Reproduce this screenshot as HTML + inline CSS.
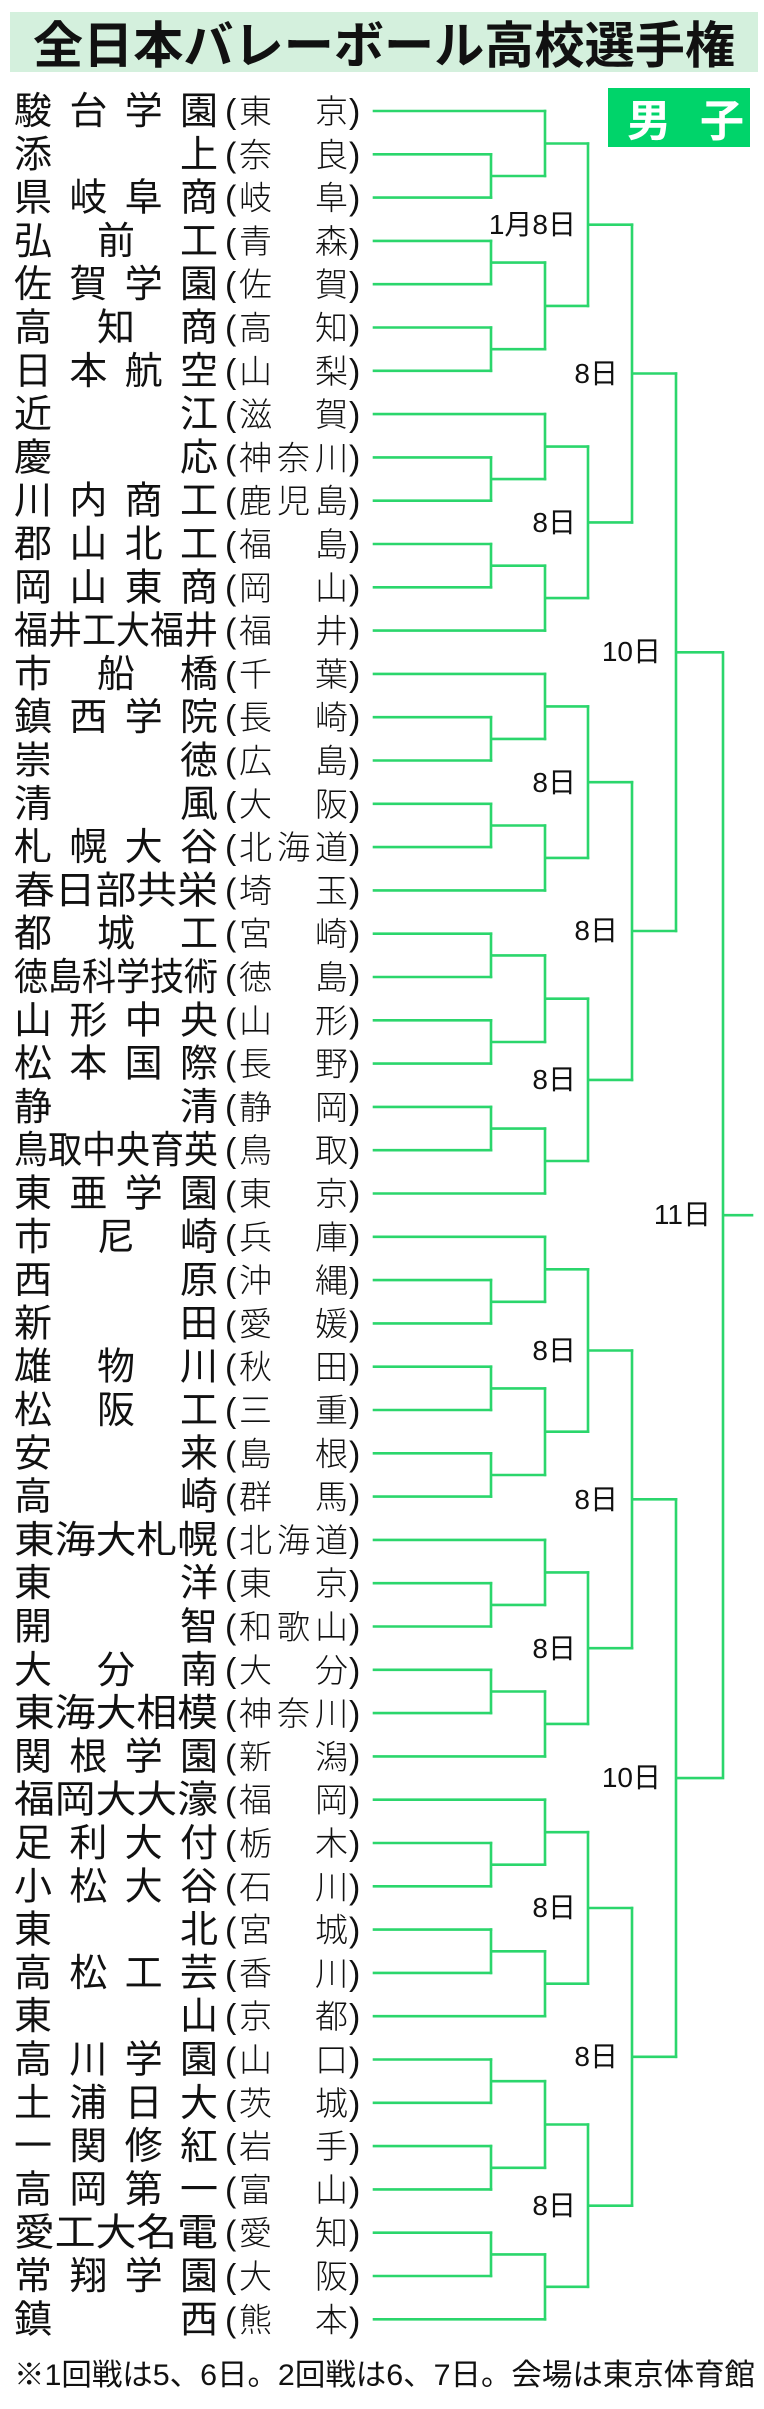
<!DOCTYPE html>
<html><head><meta charset="utf-8"><style>
html,body{margin:0;padding:0;background:#fff;}
svg{display:block;}
.n{font-family:"Noto Sans CJK JP","WenQuanYi Zen Hei",sans-serif;font-size:38px;fill:#111;font-weight:400;}
.p{font-family:"Noto Sans CJK JP","WenQuanYi Zen Hei",sans-serif;font-size:33px;fill:#111;font-weight:300;}
.par{font-family:"Liberation Sans",sans-serif;font-size:34px;fill:#111;}
.l{font-family:"Liberation Sans","Noto Sans CJK JP",sans-serif;font-size:28px;fill:#111;}
</style></head><body>
<svg width="764" height="2409" viewBox="0 0 764 2409" xmlns="http://www.w3.org/2000/svg">
<rect x="10" y="12" width="748" height="60" fill="#d4f0dd"/>
<text x="33" y="63" textLength="702" lengthAdjust="spacingAndGlyphs" font-family="'Noto Sans CJK JP',sans-serif" font-weight="bold" font-size="50" fill="#111">全日本バレーボール高校選手権</text>
<rect x="608" y="88" width="142" height="59" fill="#00d46a"/>
<text x="627" y="136" font-family="'Noto Sans CJK JP',sans-serif" font-weight="bold" font-size="44" fill="#fff">男</text>
<text x="700" y="136" font-family="'Noto Sans CJK JP',sans-serif" font-weight="bold" font-size="44" fill="#fff">子</text>

<g fill="none" stroke="#2bd66c" stroke-width="2.6" stroke-linecap="square">
<path d="M374 111H545M374 154.3H491M374 197.6H491M374 240.9H491M374 284.2H491M374 327.5H491M374 370.8H491M374 414.1H545M374 457.4H491M374 500.7H491M374 544H491M374 587.3H491M374 630.6H545M374 673.9H545M374 717.2H491M374 760.5H491M374 803.8H491M374 847.1H491M374 890.4H545M374 933.7H491M374 977H491M374 1020.3H491M374 1063.6H491M374 1106.9H491M374 1150.2H491M374 1193.5H545"/>
<path d="M374 1236.8H545M374 1280.1H491M374 1323.4H491M374 1366.7H491M374 1410H491M374 1453.3H491M374 1496.6H491M374 1539.9H545M374 1583.2H491M374 1626.5H491M374 1669.8H491M374 1713.1H491M374 1756.4H545M374 1799.7H545M374 1843H491M374 1886.3H491M374 1929.6H491M374 1972.9H491M374 2016.2H545M374 2059.5H491M374 2102.8H491M374 2146.1H491M374 2189.4H491M374 2232.7H491M374 2276H491M374 2319.3H545"/>
<path d="M491 154.3V197.6M491 176H545M491 240.9V284.2M491 262.6H545M491 327.5V370.8M491 349.2H545M491 457.4V500.7M491 479.1H545M491 544V587.3M491 565.7H545M491 717.2V760.5M491 738.9H545M491 803.8V847.1M491 825.5H545M491 933.7V977M491 955.4H545M491 1020.3V1063.6M491 1042H545M491 1106.9V1150.2M491 1128.6H545"/>
<path d="M491 1280.1V1323.4M491 1301.8H545M491 1366.7V1410M491 1388.4H545M491 1453.3V1496.6M491 1475H545M491 1583.2V1626.5M491 1604.9H545M491 1669.8V1713.1M491 1691.5H545M491 1843V1886.3M491 1864.7H545M491 1929.6V1972.9M491 1951.3H545M491 2059.5V2102.8M491 2081.2H545M491 2146.1V2189.4M491 2167.8H545M491 2232.7V2276M491 2254.4H545"/>
<path d="M545 111V176M545 143.5H588M545 262.6V349.2M545 305.9H588M545 414.1V479.1M545 446.6H588M545 565.7V630.6M545 598.1H588M545 673.9V738.9M545 706.4H588M545 825.5V890.4M545 857.9H588M545 955.4V1042M545 998.7H588M545 1128.6V1193.5M545 1161H588"/>
<path d="M545 1236.8V1301.8M545 1269.3H588M545 1388.4V1475M545 1431.7H588M545 1539.9V1604.9M545 1572.4H588M545 1691.5V1756.4M545 1723.9H588M545 1799.7V1864.7M545 1832.2H588M545 1951.3V2016.2M545 1983.7H588M545 2081.2V2167.8M545 2124.5H588M545 2254.4V2319.3M545 2286.8H588"/>
<path d="M588 143.5V305.9M588 224.7H632M588 446.6V598.1M588 522.4H632M588 706.4V857.9M588 782.2H632M588 998.7V1161M588 1079.9H632M588 1269.3V1431.7M588 1350.5H632M588 1572.4V1723.9M588 1648.2H632M588 1832.2V1983.7M588 1908H632M588 2124.5V2286.8M588 2205.7H632"/>
<path d="M632 224.7V522.4M632 373.5H676M632 782.2V1079.9M632 931H676M632 1350.5V1648.2M632 1499.3H676M632 1908V2205.7M632 2056.8H676"/>
<path d="M676 373.5V931M676 652.3H723M676 1499.3V2056.8M676 1778.1H723M723 652.3V1778.1M723 1215.2H752"/>
</g>

<g class="l" text-anchor="end">
<text x="576" y="234">1月8日</text>
<text x="576" y="532">8日</text>
<text x="618" y="383">8日</text>
<text x="576" y="792">8日</text>
<text x="576" y="1089">8日</text>
<text x="618" y="940">8日</text>
<text x="661" y="661">10日</text>
<text x="711" y="1224">11日</text>
<text x="576" y="1360">8日</text>
<text x="576" y="1658">8日</text>
<text x="618" y="1509">8日</text>
<text x="576" y="1917">8日</text>
<text x="576" y="2215">8日</text>
<text x="618" y="2066">8日</text>
<text x="661" y="1787">10日</text>
</g>

<g class="n">
<text x="14" y="124" textLength="204" lengthAdjust="spacing">駿台学園</text>
<text x="14" y="167.3" textLength="204" lengthAdjust="spacing">添上</text>
<text x="14" y="210.6" textLength="204" lengthAdjust="spacing">県岐阜商</text>
<text x="14" y="253.9" textLength="204" lengthAdjust="spacing">弘前工</text>
<text x="14" y="297.2" textLength="204" lengthAdjust="spacing">佐賀学園</text>
<text x="14" y="340.5" textLength="204" lengthAdjust="spacing">高知商</text>
<text x="14" y="383.8" textLength="204" lengthAdjust="spacing">日本航空</text>
<text x="14" y="427.1" textLength="204" lengthAdjust="spacing">近江</text>
<text x="14" y="470.4" textLength="204" lengthAdjust="spacing">慶応</text>
<text x="14" y="513.7" textLength="204" lengthAdjust="spacing">川内商工</text>
<text x="14" y="557" textLength="204" lengthAdjust="spacing">郡山北工</text>
<text x="14" y="600.3" textLength="204" lengthAdjust="spacing">岡山東商</text>
<text x="14" y="643.6" textLength="204" lengthAdjust="spacingAndGlyphs">福井工大福井</text>
<text x="14" y="686.9" textLength="204" lengthAdjust="spacing">市船橋</text>
<text x="14" y="730.2" textLength="204" lengthAdjust="spacing">鎮西学院</text>
<text x="14" y="773.5" textLength="204" lengthAdjust="spacing">崇徳</text>
<text x="14" y="816.8" textLength="204" lengthAdjust="spacing">清風</text>
<text x="14" y="860.1" textLength="204" lengthAdjust="spacing">札幌大谷</text>
<text x="14" y="903.4" textLength="204" lengthAdjust="spacingAndGlyphs">春日部共栄</text>
<text x="14" y="946.7" textLength="204" lengthAdjust="spacing">都城工</text>
<text x="14" y="990" textLength="204" lengthAdjust="spacingAndGlyphs">徳島科学技術</text>
<text x="14" y="1033.3" textLength="204" lengthAdjust="spacing">山形中央</text>
<text x="14" y="1076.6" textLength="204" lengthAdjust="spacing">松本国際</text>
<text x="14" y="1119.9" textLength="204" lengthAdjust="spacing">静清</text>
<text x="14" y="1163.2" textLength="204" lengthAdjust="spacingAndGlyphs">鳥取中央育英</text>
<text x="14" y="1206.5" textLength="204" lengthAdjust="spacing">東亜学園</text>
<text x="14" y="1249.8" textLength="204" lengthAdjust="spacing">市尼崎</text>
<text x="14" y="1293.1" textLength="204" lengthAdjust="spacing">西原</text>
<text x="14" y="1336.4" textLength="204" lengthAdjust="spacing">新田</text>
<text x="14" y="1379.7" textLength="204" lengthAdjust="spacing">雄物川</text>
<text x="14" y="1423" textLength="204" lengthAdjust="spacing">松阪工</text>
<text x="14" y="1466.3" textLength="204" lengthAdjust="spacing">安来</text>
<text x="14" y="1509.6" textLength="204" lengthAdjust="spacing">高崎</text>
<text x="14" y="1552.9" textLength="204" lengthAdjust="spacingAndGlyphs">東海大札幌</text>
<text x="14" y="1596.2" textLength="204" lengthAdjust="spacing">東洋</text>
<text x="14" y="1639.5" textLength="204" lengthAdjust="spacing">開智</text>
<text x="14" y="1682.8" textLength="204" lengthAdjust="spacing">大分南</text>
<text x="14" y="1726.1" textLength="204" lengthAdjust="spacingAndGlyphs">東海大相模</text>
<text x="14" y="1769.4" textLength="204" lengthAdjust="spacing">関根学園</text>
<text x="14" y="1812.7" textLength="204" lengthAdjust="spacingAndGlyphs">福岡大大濠</text>
<text x="14" y="1856" textLength="204" lengthAdjust="spacing">足利大付</text>
<text x="14" y="1899.3" textLength="204" lengthAdjust="spacing">小松大谷</text>
<text x="14" y="1942.6" textLength="204" lengthAdjust="spacing">東北</text>
<text x="14" y="1985.9" textLength="204" lengthAdjust="spacing">高松工芸</text>
<text x="14" y="2029.2" textLength="204" lengthAdjust="spacing">東山</text>
<text x="14" y="2072.5" textLength="204" lengthAdjust="spacing">高川学園</text>
<text x="14" y="2115.8" textLength="204" lengthAdjust="spacing">土浦日大</text>
<text x="14" y="2159.1" textLength="204" lengthAdjust="spacing">一関修紅</text>
<text x="14" y="2202.4" textLength="204" lengthAdjust="spacing">高岡第一</text>
<text x="14" y="2245.7" textLength="204" lengthAdjust="spacingAndGlyphs">愛工大名電</text>
<text x="14" y="2289" textLength="204" lengthAdjust="spacing">常翔学園</text>
<text x="14" y="2332.3" textLength="204" lengthAdjust="spacing">鎮西</text>
</g>

<g class="p">
<text x="239" y="123" textLength="109" lengthAdjust="spacing">東京</text>
<text x="239" y="166.3" textLength="109" lengthAdjust="spacing">奈良</text>
<text x="239" y="209.6" textLength="109" lengthAdjust="spacing">岐阜</text>
<text x="239" y="252.9" textLength="109" lengthAdjust="spacing">青森</text>
<text x="239" y="296.2" textLength="109" lengthAdjust="spacing">佐賀</text>
<text x="239" y="339.5" textLength="109" lengthAdjust="spacing">高知</text>
<text x="239" y="382.8" textLength="109" lengthAdjust="spacing">山梨</text>
<text x="239" y="426.1" textLength="109" lengthAdjust="spacing">滋賀</text>
<text x="239" y="469.4" textLength="109" lengthAdjust="spacing">神奈川</text>
<text x="239" y="512.7" textLength="109" lengthAdjust="spacing">鹿児島</text>
<text x="239" y="556" textLength="109" lengthAdjust="spacing">福島</text>
<text x="239" y="599.3" textLength="109" lengthAdjust="spacing">岡山</text>
<text x="239" y="642.6" textLength="109" lengthAdjust="spacing">福井</text>
<text x="239" y="685.9" textLength="109" lengthAdjust="spacing">千葉</text>
<text x="239" y="729.2" textLength="109" lengthAdjust="spacing">長崎</text>
<text x="239" y="772.5" textLength="109" lengthAdjust="spacing">広島</text>
<text x="239" y="815.8" textLength="109" lengthAdjust="spacing">大阪</text>
<text x="239" y="859.1" textLength="109" lengthAdjust="spacing">北海道</text>
<text x="239" y="902.4" textLength="109" lengthAdjust="spacing">埼玉</text>
<text x="239" y="945.7" textLength="109" lengthAdjust="spacing">宮崎</text>
<text x="239" y="989" textLength="109" lengthAdjust="spacing">徳島</text>
<text x="239" y="1032.3" textLength="109" lengthAdjust="spacing">山形</text>
<text x="239" y="1075.6" textLength="109" lengthAdjust="spacing">長野</text>
<text x="239" y="1118.9" textLength="109" lengthAdjust="spacing">静岡</text>
<text x="239" y="1162.2" textLength="109" lengthAdjust="spacing">鳥取</text>
<text x="239" y="1205.5" textLength="109" lengthAdjust="spacing">東京</text>
<text x="239" y="1248.8" textLength="109" lengthAdjust="spacing">兵庫</text>
<text x="239" y="1292.1" textLength="109" lengthAdjust="spacing">沖縄</text>
<text x="239" y="1335.4" textLength="109" lengthAdjust="spacing">愛媛</text>
<text x="239" y="1378.7" textLength="109" lengthAdjust="spacing">秋田</text>
<text x="239" y="1422" textLength="109" lengthAdjust="spacing">三重</text>
<text x="239" y="1465.3" textLength="109" lengthAdjust="spacing">島根</text>
<text x="239" y="1508.6" textLength="109" lengthAdjust="spacing">群馬</text>
<text x="239" y="1551.9" textLength="109" lengthAdjust="spacing">北海道</text>
<text x="239" y="1595.2" textLength="109" lengthAdjust="spacing">東京</text>
<text x="239" y="1638.5" textLength="109" lengthAdjust="spacing">和歌山</text>
<text x="239" y="1681.8" textLength="109" lengthAdjust="spacing">大分</text>
<text x="239" y="1725.1" textLength="109" lengthAdjust="spacing">神奈川</text>
<text x="239" y="1768.4" textLength="109" lengthAdjust="spacing">新潟</text>
<text x="239" y="1811.7" textLength="109" lengthAdjust="spacing">福岡</text>
<text x="239" y="1855" textLength="109" lengthAdjust="spacing">栃木</text>
<text x="239" y="1898.3" textLength="109" lengthAdjust="spacing">石川</text>
<text x="239" y="1941.6" textLength="109" lengthAdjust="spacing">宮城</text>
<text x="239" y="1984.9" textLength="109" lengthAdjust="spacing">香川</text>
<text x="239" y="2028.2" textLength="109" lengthAdjust="spacing">京都</text>
<text x="239" y="2071.5" textLength="109" lengthAdjust="spacing">山口</text>
<text x="239" y="2114.8" textLength="109" lengthAdjust="spacing">茨城</text>
<text x="239" y="2158.1" textLength="109" lengthAdjust="spacing">岩手</text>
<text x="239" y="2201.4" textLength="109" lengthAdjust="spacing">富山</text>
<text x="239" y="2244.7" textLength="109" lengthAdjust="spacing">愛知</text>
<text x="239" y="2288" textLength="109" lengthAdjust="spacing">大阪</text>
<text x="239" y="2331.3" textLength="109" lengthAdjust="spacing">熊本</text>
</g>

<g class="par">
<text x="225" y="123">(</text><text x="349" y="123">)</text>
<text x="225" y="166.3">(</text><text x="349" y="166.3">)</text>
<text x="225" y="209.6">(</text><text x="349" y="209.6">)</text>
<text x="225" y="252.9">(</text><text x="349" y="252.9">)</text>
<text x="225" y="296.2">(</text><text x="349" y="296.2">)</text>
<text x="225" y="339.5">(</text><text x="349" y="339.5">)</text>
<text x="225" y="382.8">(</text><text x="349" y="382.8">)</text>
<text x="225" y="426.1">(</text><text x="349" y="426.1">)</text>
<text x="225" y="469.4">(</text><text x="349" y="469.4">)</text>
<text x="225" y="512.7">(</text><text x="349" y="512.7">)</text>
<text x="225" y="556">(</text><text x="349" y="556">)</text>
<text x="225" y="599.3">(</text><text x="349" y="599.3">)</text>
<text x="225" y="642.6">(</text><text x="349" y="642.6">)</text>
<text x="225" y="685.9">(</text><text x="349" y="685.9">)</text>
<text x="225" y="729.2">(</text><text x="349" y="729.2">)</text>
<text x="225" y="772.5">(</text><text x="349" y="772.5">)</text>
<text x="225" y="815.8">(</text><text x="349" y="815.8">)</text>
<text x="225" y="859.1">(</text><text x="349" y="859.1">)</text>
<text x="225" y="902.4">(</text><text x="349" y="902.4">)</text>
<text x="225" y="945.7">(</text><text x="349" y="945.7">)</text>
<text x="225" y="989">(</text><text x="349" y="989">)</text>
<text x="225" y="1032.3">(</text><text x="349" y="1032.3">)</text>
<text x="225" y="1075.6">(</text><text x="349" y="1075.6">)</text>
<text x="225" y="1118.9">(</text><text x="349" y="1118.9">)</text>
<text x="225" y="1162.2">(</text><text x="349" y="1162.2">)</text>
<text x="225" y="1205.5">(</text><text x="349" y="1205.5">)</text>
<text x="225" y="1248.8">(</text><text x="349" y="1248.8">)</text>
<text x="225" y="1292.1">(</text><text x="349" y="1292.1">)</text>
<text x="225" y="1335.4">(</text><text x="349" y="1335.4">)</text>
<text x="225" y="1378.7">(</text><text x="349" y="1378.7">)</text>
<text x="225" y="1422">(</text><text x="349" y="1422">)</text>
<text x="225" y="1465.3">(</text><text x="349" y="1465.3">)</text>
<text x="225" y="1508.6">(</text><text x="349" y="1508.6">)</text>
<text x="225" y="1551.9">(</text><text x="349" y="1551.9">)</text>
<text x="225" y="1595.2">(</text><text x="349" y="1595.2">)</text>
<text x="225" y="1638.5">(</text><text x="349" y="1638.5">)</text>
<text x="225" y="1681.8">(</text><text x="349" y="1681.8">)</text>
<text x="225" y="1725.1">(</text><text x="349" y="1725.1">)</text>
<text x="225" y="1768.4">(</text><text x="349" y="1768.4">)</text>
<text x="225" y="1811.7">(</text><text x="349" y="1811.7">)</text>
<text x="225" y="1855">(</text><text x="349" y="1855">)</text>
<text x="225" y="1898.3">(</text><text x="349" y="1898.3">)</text>
<text x="225" y="1941.6">(</text><text x="349" y="1941.6">)</text>
<text x="225" y="1984.9">(</text><text x="349" y="1984.9">)</text>
<text x="225" y="2028.2">(</text><text x="349" y="2028.2">)</text>
<text x="225" y="2071.5">(</text><text x="349" y="2071.5">)</text>
<text x="225" y="2114.8">(</text><text x="349" y="2114.8">)</text>
<text x="225" y="2158.1">(</text><text x="349" y="2158.1">)</text>
<text x="225" y="2201.4">(</text><text x="349" y="2201.4">)</text>
<text x="225" y="2244.7">(</text><text x="349" y="2244.7">)</text>
<text x="225" y="2288">(</text><text x="349" y="2288">)</text>
<text x="225" y="2331.3">(</text><text x="349" y="2331.3">)</text>
</g>

<text x="14" y="2385" textLength="741" lengthAdjust="spacingAndGlyphs" font-family="'Liberation Sans','Noto Sans CJK JP',sans-serif" font-size="30" fill="#111">※1回戦は5、6日。2回戦は6、7日。会場は東京体育館</text>
</svg>
</body></html>
